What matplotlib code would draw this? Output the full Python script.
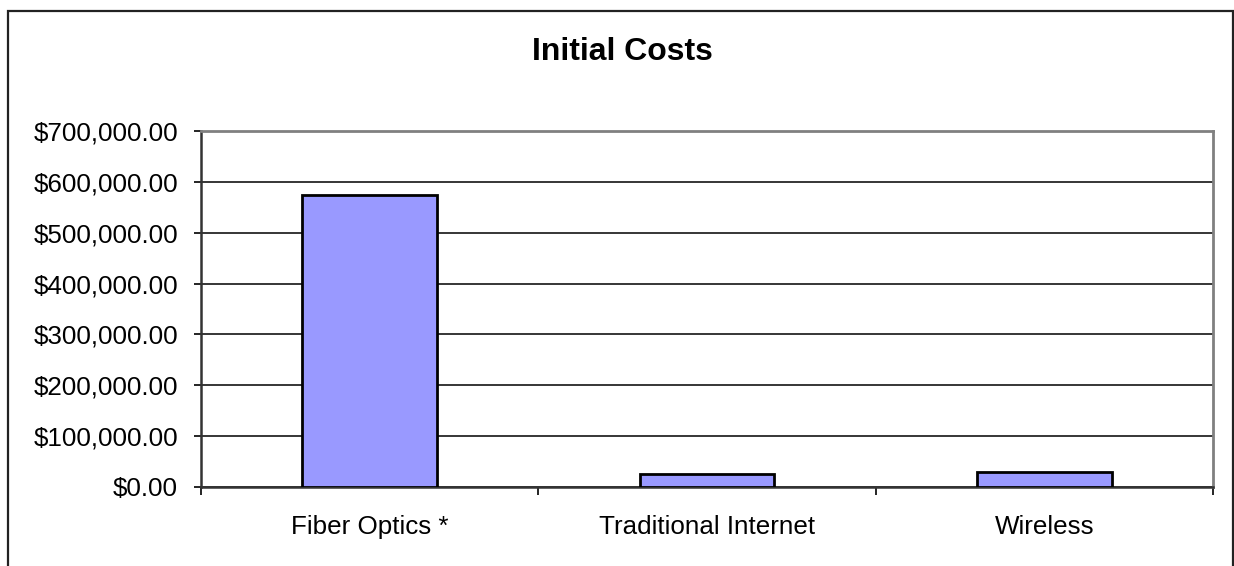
# Initial cost comparison by connection type

import matplotlib
matplotlib.use('Agg')
import matplotlib.pyplot as plt
from matplotlib.patches import Rectangle
from matplotlib.ticker import FuncFormatter, FixedLocator
import numpy as np

# Data

categories = ['Fiber Optics *', 'Traditional Internet', 'Wireless']
costs = [575000, 26500, 29000]

bar_color = '#9999FF'

plt.rcParams['font.family'] = ['Liberation Sans', 'DejaVu Sans']

fig = plt.figure(figsize=(12.34, 5.66), dpi=100)

# Chart frame around the whole figure
fig.patches.append(Rectangle((8 / 1234, -0.1), (1233 - 8) / 1234, 1.1 - 11 / 566,
                             transform=fig.transFigure, fill=False,
                             edgecolor='#222222', linewidth=1.6))

ax = fig.add_axes([201 / 1234, 1 - 487 / 566, (1213 - 201) / 1234, (487 - 131) / 566])

x = np.arange(len(categories))
ax.bar(x, costs, width=0.4, color=bar_color, edgecolor='black', linewidth=2, zorder=3)

ax.set_xlim(-0.5, len(categories) - 0.5)
ax.set_ylim(0, 700000)
ax.set_yticks(np.arange(0, 700001, 100000))
ax.yaxis.set_major_formatter(FuncFormatter(lambda v, p: '${:,.2f}'.format(v)))
ax.yaxis.grid(True, color='black', linewidth=1.1, zorder=0)

ax.set_xticks(x)
ax.set_xticklabels(categories)
ax.xaxis.set_minor_locator(FixedLocator(np.arange(-0.5, len(categories), 1.0)))
ax.tick_params(axis='x', which='major', length=0, pad=20, labelsize=18.7)
ax.tick_params(axis='x', which='minor', length=6, width=1.2, direction='out', color='black')
ax.tick_params(axis='y', length=5, width=1.2, direction='out', pad=11.5, labelsize=18.7)

for side in ['top', 'right']:
    ax.spines[side].set_color('#808080')
    ax.spines[side].set_linewidth(2)
ax.spines['left'].set_color('#333333')
ax.spines['left'].set_linewidth(1.8)
ax.spines['bottom'].set_color('#333333')
ax.spines['bottom'].set_linewidth(1.8)

fig.text(622 / 1234, 1 - 60 / 566, 'Initial Costs', ha='center', va='baseline',
         fontsize=23, fontweight='bold')

plt.savefig('out.png', dpi=100)
